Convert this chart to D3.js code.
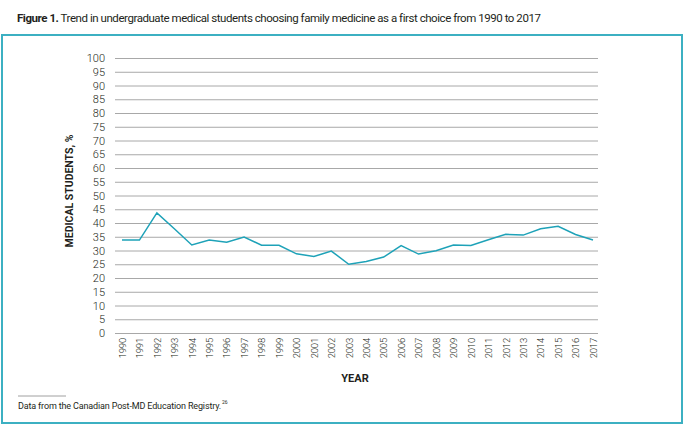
<!DOCTYPE html>
<html><head><meta charset="utf-8">
<script src="https://cdn.jsdelivr.net/npm/d3@7"></script>
<style>
body{margin:0;background:#fff;}
svg{display:block;}
text{font-family:"Roboto","Open Sans",sans-serif;fill:#231f20;}
</style></head><body>
<svg id="c" width="684" height="426"></svg>
<script>
const years = ["1990","1991","1992","1993","1994","1995","1996","1997","1998","1999","2000","2001","2002","2003","2004","2005","2006","2007","2008","2009","2010","2011","2012","2013","2014","2015","2016","2017"];
const values = [33.8,33.8,43.7,37.9,32,33.8,33,34.9,31.9,31.9,28.8,27.8,29.8,25,26,27.6,31.8,28.7,29.9,32,31.8,33.9,35.9,35.6,37.9,38.8,35.8,33.8];
const yTicks = d3.range(0,101,5);

const svg = d3.select("#c");
svg.append("rect").attr("x",2).attr("y",35).attr("width",680).attr("height",388)
  .attr("fill","none").attr("stroke","#3cb0c2").attr("stroke-width",2);

svg.append("text").attr("x",17).attr("y",22).attr("font-size",11.5).style("letter-spacing","-0.45px")
  .html('<tspan font-weight="bold">Figure 1.</tspan> Trend in undergraduate medical students choosing family medicine as a first choice from 1990 to 2017');

const x = d3.scalePoint().domain(years).range([122,593]);
const y = d3.scaleLinear().domain([0,100]).range([333,58]);

const yAxis = svg.append("g").attr("transform","translate(115,0)")
  .call(d3.axisLeft(y).tickValues(yTicks).tickSize(-483).tickPadding(10));
yAxis.select(".domain").remove();
yAxis.selectAll(".tick line").attr("stroke","#a8a8a8").attr("stroke-width",1);
yAxis.selectAll(".tick text").attr("font-size",11).attr("fill","#333")
  .style("font-family",'"Roboto",sans-serif').attr("font-weight",300);

const xAxis = svg.append("g").attr("transform","translate(0,333)")
  .call(d3.axisBottom(x).tickSize(0).tickPadding(0));
xAxis.select(".domain").remove();
xAxis.selectAll(".tick text").attr("font-size",9.5).attr("fill","#333")
  .style("font-family",'"Roboto",sans-serif').style("letter-spacing","-0.2px").attr("font-weight",300)
  .attr("transform","rotate(-90)").attr("text-anchor","end")
  .attr("x",-5).attr("y",0).attr("dy","0.35em");

svg.append("path").datum(values)
  .attr("fill","none").attr("stroke","#1ea2b8").attr("stroke-width",1.5)
  .attr("d", d3.line().x((d,i)=>x(years[i])).y(d=>y(d)));

svg.append("text").attr("x",355).attr("y",382).attr("text-anchor","middle")
  .attr("font-size",11).attr("font-weight","bold").text("YEAR");
svg.append("text").attr("transform","translate(73,191) rotate(-90)").attr("text-anchor","middle")
  .attr("font-size",10.5).attr("font-weight","bold").text("MEDICAL STUDENTS, %");

svg.append("line").attr("x1",18).attr("x2",66).attr("y1",396).attr("y2",396)
  .attr("stroke","#888").attr("stroke-width",0.8);
svg.append("text").attr("x",18).attr("y",409).attr("font-size",9).style("letter-spacing","-0.15px")
  .text("Data from the Canadian Post-MD Education Registry.");
svg.append("text").attr("x",222).attr("y",404).attr("font-size",5).text("26");
</script>
</body></html>
